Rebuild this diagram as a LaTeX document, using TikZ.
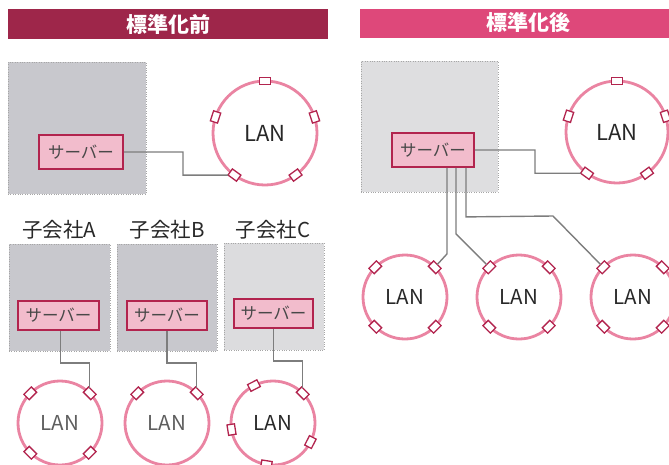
\documentclass[tikz,border=0pt]{standalone}
\usepackage{fontspec}
\newfontfamily\jp{Noto Sans CJK JP}
\usetikzlibrary{calc}
\definecolor{hdrA}{RGB}{158,38,74}
\definecolor{hdrB}{RGB}{222,72,122}
\definecolor{srvfill}{RGB}{242,188,204}
\definecolor{srvline}{RGB}{178,36,78}
\definecolor{ringc}{RGB}{234,132,162}
\definecolor{boxA}{RGB}{200,200,205}
\definecolor{boxB}{RGB}{222,222,224}
\definecolor{wire}{RGB}{125,125,125}
\definecolor{txt}{RGB}{40,40,40}
\tikzset{
  header/.style={fill=#1, draw=none, text=white, font=\jp\bfseries\fontsize{21}{23}\selectfont, inner sep=0pt},
  sitebox/.style={fill=#1, draw=gray!70, dotted, line width=0.4pt, inner sep=0pt},
  server/.style={fill=srvfill, draw=srvline, line width=1.8pt, text=txt!85, font=\jp\fontsize{16.5}{18}\selectfont, inner sep=0pt, minimum width=#1, minimum height=34pt},
  lanring/.style={circle, draw=ringc, line width=2.8pt, fill=white, outer sep=0pt, inner sep=0pt, minimum size=#1, text=txt, font=\jp\fontsize{20.5}{22}\selectfont},
  biglan/.style={font=\jp\fontsize{22}{24}\selectfont},
  port/.style={draw=srvline, fill=white, line width=1.3pt, minimum width=10.5pt, minimum height=7.5pt, inner sep=0pt, outer sep=0pt},
  wireline/.style={draw=wire, line width=1.4pt},
  sublabel/.style={text=txt, font=\jp\fontsize{20.5}{22}\selectfont, inner sep=0pt},
}
\begin{document}
\begin{tikzpicture}[x=1pt,y=-1pt]
\useasboundingbox (0,0) rectangle (669,464);
\clip (0,0) rectangle (669,464);
% headers
\node[header=hdrA, minimum width=320pt, minimum height=30pt] (hA) at (168,24) {標準化前};
\node[header=hdrB, minimum width=320pt, minimum height=29pt] (hB) at (520,23) {};
\node[text=white, font=\jp\bfseries\fontsize{21}{23}\selectfont, inner sep=0pt] (hBt) at (528,23) {標準化後};

% ===== before =====
\node[sitebox=boxA, minimum width=138pt, minimum height=132pt] (bx0) at (77,128) {};
\node[server=84pt] (s0) at (81,152) {サーバー};
\node[lanring=104pt, biglan] (L0) at (265,133) {LAN};
\foreach \a [count=\i] in {90,162,234,306,18}
  \node[port, rotate=\a-90] (L0p\i) at (L0.\a) {};

\node[sublabel] (tA) at (59,230) {子会社A};
\node[sublabel] (tB) at (167,230) {子会社B};
\node[sublabel] (tC) at (273,230) {子会社C};

\node[sitebox=boxA, minimum width=101pt, minimum height=107pt] (bxA) at (59.5,297.5) {};
\node[sitebox=boxA, minimum width=100pt, minimum height=107pt] (bxB) at (167,297.5) {};
\node[sitebox=boxB!90!boxA, minimum width=100pt, minimum height=107pt] (bxC) at (274,296.5) {};
\node[server=81pt, minimum height=29pt] (sA) at (58.5,315.5) {サーバー};
\node[server=80pt, minimum height=29pt] (sB) at (167,315.5) {サーバー};
\node[server=79pt, minimum height=29pt] (sC) at (273.5,313.5) {サーバー};

\node[lanring=84pt, text=txt!75] (LA) at (60,423) {LAN};
\node[lanring=84pt, text=txt!75] (LB) at (167,423) {LAN};
\node[lanring=84pt] (LC) at (273,423) {LAN};
\foreach \a [count=\i] in {45,135,225,315}
  \node[port, rotate=\a-90] (LAp\i) at (LA.\a) {};
\foreach \a [count=\i] in {45,135}
  \node[port, rotate=\a-90] (LBp\i) at (LB.\a) {};
\foreach \a [count=\i] in {45,117,189,261,333}
  \node[port, rotate=\a-90] (LCp\i) at (LC.\a) {};

\coordinate (k0) at (183,0);
\draw[wireline] (s0.east) -| (k0 |- L0p3) -- (L0p3);
\draw[wireline] ([xshift=2pt]sA.south) -- ++(0,32) -| (LAp1);
\draw[wireline] (sB.south) -- ++(0,32) -| (LBp1);
\draw[wireline] (sC.south) -- ++(0,32) -| (LCp1);

% ===== after =====
\node[sitebox=boxB, minimum width=137pt, minimum height=131pt] (bx1) at (429.5,126.5) {};
\node[server=82pt] (s1) at (433,150) {サーバー};
\node[lanring=102pt, biglan] (R0) at (617,132) {LAN};
\foreach \a [count=\i] in {90,162,234,306,18}
  \node[port, rotate=\a-90] (R0p\i) at (R0.\a) {};

\node[lanring=84pt] (R1) at (405,297) {LAN};
\node[lanring=84pt] (R2) at (519,297) {LAN};
\node[lanring=84pt] (R3) at (633,297) {LAN};
\foreach \a [count=\i] in {45,135,225,315}{
  \node[port, rotate=\a-90] (R1p\i) at (R1.\a) {};
  \node[port, rotate=\a-90] (R2p\i) at (R2.\a) {};
  \node[port, rotate=\a-90] (R3p\i) at (R3.\a) {};
}

\coordinate (k1) at (535,0);
\draw[wireline] (s1.east) -| (k1 |- R0p3) -- (R0p3);
\draw[wireline] ([xshift=14pt]s1.south) -- ++(0,86) -- (R1p1);
\draw[wireline] ([xshift=23pt]s1.south) -- ++(0,66) -- (R2p2);
\coordinate (k2) at (553,0);
\draw[wireline] ([xshift=33pt]s1.south) -- ++(0,49) -- (k2 |- 0,216) -- (R3p2);
\end{tikzpicture}
\end{document}
